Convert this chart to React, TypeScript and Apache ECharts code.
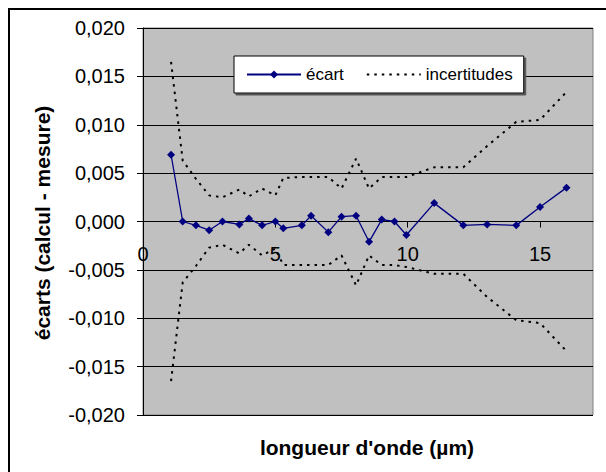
import React, { useEffect, useRef } from "react";
import * as echarts from "echarts";

// Wavelengths (µm)
const wavelengths = [1.06, 1.5, 2.0, 2.5, 3.0, 3.64, 4.0, 4.5, 5.0, 5.3, 6.0, 6.35, 7.0, 7.5, 8.05, 8.54, 9.02, 9.5, 9.95, 11.0, 12.1, 13.0, 14.1, 15.0, 16.0];
// écart (calcul - mesure)
const ecart = [0.0069, 0.0, -0.0004, -0.0009, 0.0, -0.0003, 0.0003, -0.0004, 0.0, -0.0007, -0.0004, 0.0006, -0.0011, 0.0005, 0.0006, -0.0021, 0.0002, 0.0, -0.0014, 0.0019, -0.0004, -0.0003, -0.0004, 0.0015, 0.0035];
// incertitudes (upper / lower)
const incertHaut = [0.0165, 0.0063, 0.0044, 0.0027, 0.0025, 0.0033, 0.0026, 0.0034, 0.0027, 0.0045, 0.0046, 0.0046, 0.0046, 0.0034, 0.0065, 0.0034, 0.0046, 0.0046, 0.0046, 0.0056, 0.0056, 0.0078, 0.0103, 0.0105, 0.0134];
const incertBas = [-0.0165, -0.0063, -0.0046, -0.0027, -0.0024, -0.0033, -0.0024, -0.0035, -0.0028, -0.0045, -0.0045, -0.0045, -0.0045, -0.0035, -0.0066, -0.0035, -0.0045, -0.0045, -0.0047, -0.0054, -0.0054, -0.0078, -0.0102, -0.0105, -0.0134];

const xMin = 0;
const xMax = 17;
const xStep = 5;
const yMin = -0.02;
const yMax = 0.02;
const yStep = 0.005;

const seriesNames = ["écart", "incertitudes"];
const xTitle = "longueur d'onde (µm)";
const yTitle = "écarts (calcul - mesure)";

const FONT = "'Liberation Sans', Arial, Helvetica, sans-serif";

const GRID_TOP = 28;
const GRID_BOTTOM = 57;
const CHART_H = 472;

export default function App() {
  const ref = useRef<HTMLDivElement>(null);
  useEffect(() => {
    document.body.style.margin = "0";
    if (!ref.current) return;
    const chart = echarts.init(ref.current, null, { renderer: "svg" });
    const pair = (ys: number[]) => wavelengths.map((x, i) => [x, ys[i]]);
    const dotted = { color: "#000", width: 2, type: [2.5, 5] as number[] };
    // distance (px) from the grid bottom up to the y = 0 line
    const plotH = CHART_H - GRID_TOP - GRID_BOTTOM;
    const zeroOffset = (plotH * (0 - yMin)) / (yMax - yMin);
    const clear = "rgba(0,0,0,0)";
    chart.setOption({
      animation: false,
      backgroundColor: "#fff",
      textStyle: { fontFamily: FONT },
      grid: {
        left: 143,
        right: 13,
        top: GRID_TOP,
        bottom: GRID_BOTTOM,
        show: true,
        backgroundColor: "#C0C0C0",
        borderColor: "#808080",
        borderWidth: 1,
      },
      legend: {
        data: [
          { name: seriesNames[0] },
          { name: seriesNames[1], itemStyle: { color: clear, borderColor: clear, borderWidth: 0 } },
        ],
        left: 234,
        top: 56,
        orient: "horizontal",
        padding: [10, 11, 10, 12],
        itemWidth: 54,
        itemHeight: 10,
        itemGap: 22,
        backgroundColor: "#fff",
        borderColor: "#000",
        borderWidth: 1,
        shadowColor: "#555",
        shadowOffsetX: 2,
        shadowOffsetY: 2,
        shadowBlur: 0,
        textStyle: { fontSize: 17, color: "#000", fontFamily: FONT },
      },
      xAxis: {
        type: "value",
        min: xMin,
        max: xMax,
        interval: xStep,
        offset: -zeroOffset,
        axisLine: { show: true, onZero: false, lineStyle: { color: "#000", width: 1 } },
        axisTick: { show: true, length: 6, lineStyle: { color: "#000" } },
        axisLabel: { fontSize: 20, color: "#000", margin: 22, fontFamily: FONT, showMaxLabel: false },
        splitLine: { show: false },
      },
      yAxis: {
        type: "value",
        min: yMin,
        max: yMax,
        interval: yStep,
        axisLine: { show: true, lineStyle: { color: "#000", width: 1 } },
        axisTick: { show: true, length: 6, lineStyle: { color: "#000" } },
        axisLabel: {
          fontSize: 20,
          color: "#000",
          margin: 18,
          fontFamily: FONT,
          formatter: (v: number) => (Math.abs(v) < 1e-9 ? 0 : v).toFixed(3).replace(".", ","),
        },
        splitLine: { show: true, lineStyle: { color: "#000", width: 1 } },
      },
      graphic: [
        {
          type: "rect",
          shape: { x: 9, y: 9, width: 640, height: 520 },
          style: { fill: "none", stroke: "#000", lineWidth: 2 },
          silent: true,
        },
        {
          type: "text",
          x: 367,
          y: 447,
          style: { text: xTitle, font: `bold 21px ${FONT}`, fill: "#000", align: "center", verticalAlign: "middle" },
        },
        {
          type: "text",
          x: 42,
          y: 223,
          rotation: Math.PI / 2,
          style: { text: yTitle, font: `bold 21px ${FONT}`, fill: "#000", align: "center", verticalAlign: "middle" },
        },
      ],
      series: [
        {
          name: seriesNames[0],
          type: "line",
          data: pair(ecart),
          symbol: "diamond",
          symbolSize: 8,
          lineStyle: { color: "#000080", width: 1.3 },
          itemStyle: { color: "#000080" },
          z: 3,
        },
        {
          name: seriesNames[1],
          type: "line",
          data: pair(incertHaut),
          symbol: "none",
          lineStyle: dotted,
          itemStyle: { color: "#000" },
        },
        {
          name: seriesNames[1],
          type: "line",
          data: pair(incertBas),
          symbol: "none",
          lineStyle: dotted,
          itemStyle: { color: "#000" },
        },
      ],
    });
    return () => chart.dispose();
  }, []);
  return <div ref={ref} style={{ width: 606, height: 472 }} />;
}
